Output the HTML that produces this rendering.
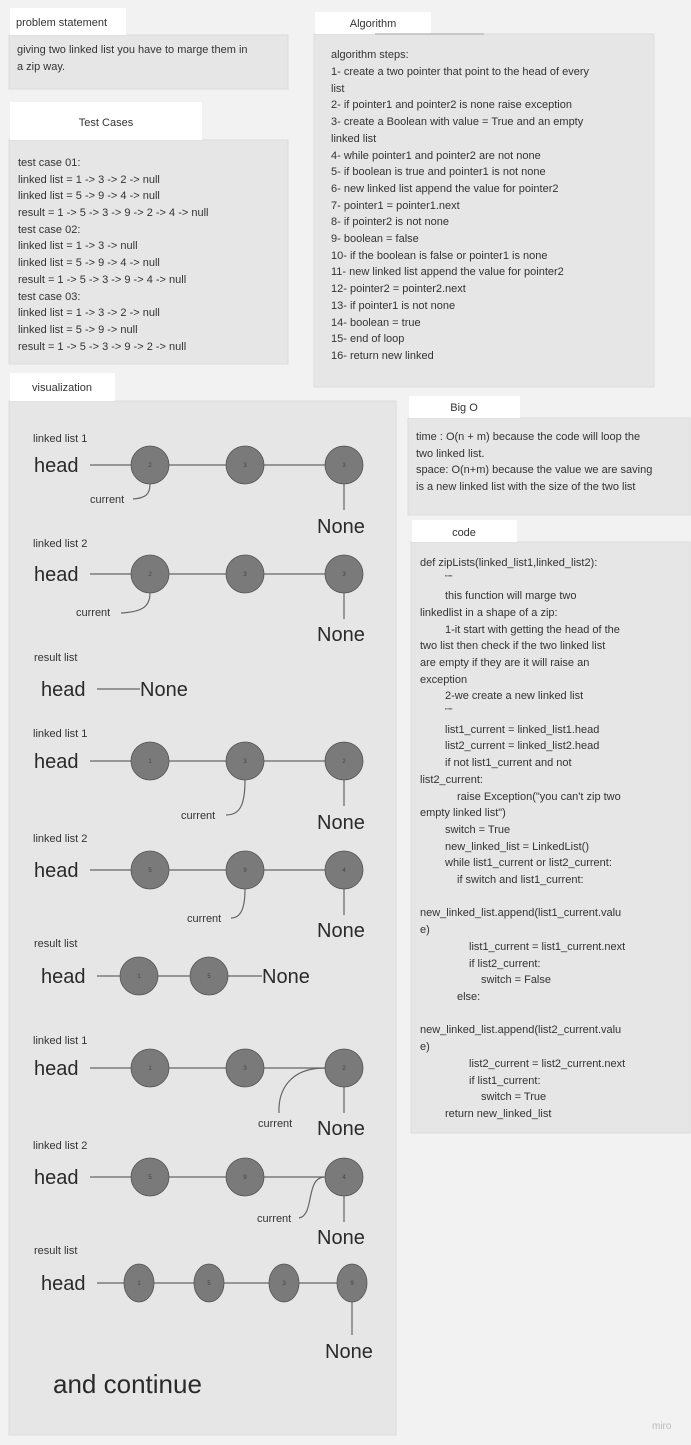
<!DOCTYPE html>
<html><head><meta charset="utf-8"><style>
html,body{margin:0;padding:0;background:#f2f2f2;}
svg{display:block;}
text{font-family:"Liberation Sans",sans-serif;fill:#333;}
.s{font-size:11px;}
.big{font-size:20px;fill:#2a2a2a;}
.n{font-size:6px;fill:#444;text-anchor:middle;}
.c{fill:#7a7a7a;stroke:#555;stroke-width:0.8;}
.l{stroke:#666;stroke-width:1.2;fill:none;}
</style></head><body>
<svg width="691" height="1445" viewBox="0 0 691 1445" xmlns="http://www.w3.org/2000/svg">
<rect width="691" height="1445" fill="#f2f2f2"/>
<!-- problem statement -->
<rect x="9" y="35" width="279" height="54" fill="#e6e6e6" stroke="#dcdcdc"/>
<rect x="10" y="8" width="116" height="27" fill="#fff"/>
<text class="s" x="16" y="26">problem statement</text>
<text class="s" x="17" y="53">giving two linked list you have to marge them in</text>
<text class="s" x="17" y="70">a zip way.</text>
<!-- test cases -->
<rect x="9" y="140" width="279" height="224" fill="#e6e6e6" stroke="#dcdcdc"/>
<rect x="10" y="102" width="192" height="38" fill="#fff"/>
<text class="s" x="106" y="126" text-anchor="middle">Test Cases</text>
<text class="s" x="18" y="166">test case 01:</text>
<text class="s" x="18" y="183">linked list = 1 -&gt; 3 -&gt; 2 -&gt; null</text>
<text class="s" x="18" y="199">linked list = 5 -&gt; 9 -&gt; 4 -&gt; null</text>
<text class="s" x="18" y="216">result = 1 -&gt; 5 -&gt; 3 -&gt; 9 -&gt; 2 -&gt; 4 -&gt; null</text>
<text class="s" x="18" y="233">test case 02:</text>
<text class="s" x="18" y="249">linked list = 1 -&gt; 3 -&gt; null</text>
<text class="s" x="18" y="266">linked list = 5 -&gt; 9 -&gt; 4 -&gt; null</text>
<text class="s" x="18" y="283">result = 1 -&gt; 5 -&gt; 3 -&gt; 9 -&gt; 4 -&gt; null</text>
<text class="s" x="18" y="300">test case 03:</text>
<text class="s" x="18" y="316">linked list = 1 -&gt; 3 -&gt; 2 -&gt; null</text>
<text class="s" x="18" y="333">linked list = 5 -&gt; 9 -&gt; null</text>
<text class="s" x="18" y="350">result = 1 -&gt; 5 -&gt; 3 -&gt; 9 -&gt; 2 -&gt; null</text>
<!-- algorithm -->
<rect x="314" y="34" width="340" height="353" fill="#e6e6e6" stroke="#dcdcdc"/>
<rect x="315" y="12" width="116" height="22" fill="#fff"/>
<line x1="375" y1="34" x2="484" y2="34" stroke="#bbb" stroke-width="1.5"/>
<text class="s" x="373" y="27" text-anchor="middle">Algorithm</text>
<text class="s" x="331" y="58">algorithm steps:</text>
<text class="s" x="331" y="75">1- create a two pointer that point to the head of every</text>
<text class="s" x="331" y="92">list</text>
<text class="s" x="331" y="108">2- if pointer1 and pointer2 is none raise exception</text>
<text class="s" x="331" y="125">3- create a Boolean with value = True and an empty</text>
<text class="s" x="331" y="142">linked list</text>
<text class="s" x="331" y="159">4- while pointer1 and pointer2 are not none</text>
<text class="s" x="331" y="175">5- if boolean is true and pointer1 is not none</text>
<text class="s" x="331" y="192">6- new linked list append the value for pointer2</text>
<text class="s" x="331" y="209">7- pointer1 = pointer1.next</text>
<text class="s" x="331" y="225">8- if pointer2 is not none</text>
<text class="s" x="331" y="242">9- boolean = false</text>
<text class="s" x="331" y="259">10- if the boolean is false or pointer1 is none</text>
<text class="s" x="331" y="275">11- new linked list append the value for pointer2</text>
<text class="s" x="331" y="292">12- pointer2 = pointer2.next</text>
<text class="s" x="331" y="309">13- if pointer1 is not none</text>
<text class="s" x="331" y="326">14- boolean = true</text>
<text class="s" x="331" y="342">15- end of loop</text>
<text class="s" x="331" y="359">16- return new linked</text>
<!-- Big O -->
<rect x="408" y="418" width="282" height="97" fill="#e6e6e6" stroke="#dcdcdc"/>
<rect x="409" y="396" width="111" height="22" fill="#fff"/>
<text class="s" x="464" y="411" text-anchor="middle">Big O</text>
<text class="s" x="416" y="440">time : O(n + m) because the code will loop the</text>
<text class="s" x="416" y="457">two linked list.</text>
<text class="s" x="416" y="473">space: O(n+m) because the value we are saving</text>
<text class="s" x="416" y="490">is a new linked list with the size of the two list</text>
<!-- code -->
<rect x="411" y="542" width="279" height="591" fill="#e6e6e6" stroke="#dcdcdc"/>
<rect x="412" y="520" width="105" height="22" fill="#fff"/>
<text class="s" x="464" y="536" text-anchor="middle">code</text>
<text class="s" x="420" y="566">def zipLists(linked_list1,linked_list2):</text>
<text class="s" x="445" y="580" style="font-size:7px">"""</text>
<text class="s" x="445" y="599">this function will marge two</text>
<text class="s" x="420" y="616">linkedlist in a shape of a zip:</text>
<text class="s" x="445" y="633">1-it start with getting the head of the</text>
<text class="s" x="420" y="649">two list then check if the two linked list</text>
<text class="s" x="420" y="666">are empty if they are it will raise an</text>
<text class="s" x="420" y="683">exception</text>
<text class="s" x="445" y="699">2-we create a new linked list</text>
<text class="s" x="445" y="713" style="font-size:7px">"""</text>
<text class="s" x="445" y="733">list1_current = linked_list1.head</text>
<text class="s" x="445" y="749">list2_current = linked_list2.head</text>
<text class="s" x="445" y="766">if not list1_current and not</text>
<text class="s" x="420" y="783">list2_current:</text>
<text class="s" x="457" y="800">raise Exception("you can't zip two</text>
<text class="s" x="420" y="816">empty linked list")</text>
<text class="s" x="445" y="833">switch = True</text>
<text class="s" x="445" y="850">new_linked_list = LinkedList()</text>
<text class="s" x="445" y="866">while list1_current or list2_current:</text>
<text class="s" x="457" y="883">if switch and list1_current:</text>
<text class="s" x="420" y="916">new_linked_list.append(list1_current.valu</text>
<text class="s" x="420" y="933">e)</text>
<text class="s" x="469" y="950">list1_current = list1_current.next</text>
<text class="s" x="469" y="967">if list2_current:</text>
<text class="s" x="481" y="983">switch = False</text>
<text class="s" x="457" y="1000">else:</text>
<text class="s" x="420" y="1033">new_linked_list.append(list2_current.valu</text>
<text class="s" x="420" y="1050">e)</text>
<text class="s" x="469" y="1067">list2_current = list2_current.next</text>
<text class="s" x="469" y="1084">if list1_current:</text>
<text class="s" x="481" y="1100">switch = True</text>
<text class="s" x="445" y="1117">return new_linked_list</text>

<!-- visualization -->
<rect x="9" y="401" width="387" height="1034" fill="#e6e6e6" stroke="#dcdcdc"/>
<rect x="10" y="373" width="105" height="28" fill="#fff"/>
<text class="s" x="62" y="391" text-anchor="middle">visualization</text>

<!-- section 1 -->
<text class="s" x="33" y="442">linked list 1</text>
<text class="big" x="34" y="472">head</text>
<path class="l" d="M90 465H131M169 465H226M264 465H325M344 484V510"/>
<circle class="c" cx="150" cy="465" r="19"/><circle class="c" cx="245" cy="465" r="19"/><circle class="c" cx="344" cy="465" r="19"/>
<text class="n" x="150" y="467">2</text><text class="n" x="245" y="467">3</text><text class="n" x="344" y="467">3</text>
<path class="l" d="M150 484C150 495 145 498 133 499"/>
<text class="s" x="90" y="503">current</text>
<text class="big" x="317" y="533">None</text>

<!-- section 2 -->
<text class="s" x="33" y="547">linked list 2</text>
<text class="big" x="34" y="581">head</text>
<path class="l" d="M90 574H131M169 574H226M264 574H325M344 593V619"/>
<circle class="c" cx="150" cy="574" r="19"/><circle class="c" cx="245" cy="574" r="19"/><circle class="c" cx="344" cy="574" r="19"/>
<text class="n" x="150" y="576">2</text><text class="n" x="245" y="576">3</text><text class="n" x="344" y="576">3</text>
<path class="l" d="M150 593C150 608 140 612 121 613"/>
<text class="s" x="76" y="616">current</text>
<text class="big" x="317" y="641">None</text>

<!-- result 1 -->
<text class="s" x="34" y="661">result list</text>
<text class="big" x="41" y="696">head</text>
<path class="l" d="M97 689H140"/>
<text class="big" x="140" y="696">None</text>

<!-- section 3 -->
<text class="s" x="33" y="737">linked list 1</text>
<text class="big" x="34" y="768">head</text>
<path class="l" d="M90 761H131M169 761H226M264 761H325M344 780V806"/>
<circle class="c" cx="150" cy="761" r="19"/><circle class="c" cx="245" cy="761" r="19"/><circle class="c" cx="344" cy="761" r="19"/>
<text class="n" x="150" y="763">1</text><text class="n" x="245" y="763">3</text><text class="n" x="344" y="763">2</text>
<path class="l" d="M245 780C245 805 240 815 226 815"/>
<text class="s" x="181" y="819">current</text>
<text class="big" x="317" y="829">None</text>

<!-- section 4 -->
<text class="s" x="33" y="842">linked list 2</text>
<text class="big" x="34" y="877">head</text>
<path class="l" d="M90 870H131M169 870H226M264 870H325M344 889V915"/>
<circle class="c" cx="150" cy="870" r="19"/><circle class="c" cx="245" cy="870" r="19"/><circle class="c" cx="344" cy="870" r="19"/>
<text class="n" x="150" y="872">5</text><text class="n" x="245" y="872">9</text><text class="n" x="344" y="872">4</text>
<path class="l" d="M245 889C245 910 240 918 231 918"/>
<text class="s" x="187" y="922">current</text>
<text class="big" x="317" y="937">None</text>

<!-- result 2 -->
<text class="s" x="34" y="947">result list</text>
<text class="big" x="41" y="983">head</text>
<path class="l" d="M97 976H120M158 976H190M228 976H262"/>
<circle class="c" cx="139" cy="976" r="19"/><circle class="c" cx="209" cy="976" r="19"/>
<text class="n" x="139" y="978">1</text><text class="n" x="209" y="978">5</text>
<text class="big" x="262" y="983">None</text>

<!-- section 5 -->
<text class="s" x="33" y="1044">linked list 1</text>
<text class="big" x="34" y="1075">head</text>
<path class="l" d="M90 1068H131M169 1068H226M264 1068H325M344 1087V1113"/>
<circle class="c" cx="150" cy="1068" r="19"/><circle class="c" cx="245" cy="1068" r="19"/><circle class="c" cx="344" cy="1068" r="19"/>
<text class="n" x="150" y="1070">1</text><text class="n" x="245" y="1070">3</text><text class="n" x="344" y="1070">2</text>
<path class="l" d="M325 1068C290 1068 278 1090 279 1113"/>
<text class="s" x="258" y="1127">current</text>
<text class="big" x="317" y="1135">None</text>

<!-- section 6 -->
<text class="s" x="33" y="1149">linked list 2</text>
<text class="big" x="34" y="1184">head</text>
<path class="l" d="M90 1177H131M169 1177H226M264 1177H325M344 1196V1222"/>
<circle class="c" cx="150" cy="1177" r="19"/><circle class="c" cx="245" cy="1177" r="19"/><circle class="c" cx="344" cy="1177" r="19"/>
<text class="n" x="150" y="1179">5</text><text class="n" x="245" y="1179">9</text><text class="n" x="344" y="1179">4</text>
<path class="l" d="M325 1177C305 1177 315 1215 299 1218"/>
<text class="s" x="257" y="1222">current</text>
<text class="big" x="317" y="1244">None</text>

<!-- result 3 -->
<text class="s" x="34" y="1254">result list</text>
<text class="big" x="41" y="1290">head</text>
<path class="l" d="M97 1283H124M154 1283H194M224 1283H269M299 1283H337M352 1302V1335"/>
<ellipse class="c" cx="139" cy="1283" rx="15" ry="19"/><ellipse class="c" cx="209" cy="1283" rx="15" ry="19"/><ellipse class="c" cx="284" cy="1283" rx="15" ry="19"/><ellipse class="c" cx="352" cy="1283" rx="15" ry="19"/>
<text class="n" x="139" y="1285">1</text><text class="n" x="209" y="1285">5</text><text class="n" x="284" y="1285">3</text><text class="n" x="352" y="1285">9</text>
<text class="big" x="325" y="1358">None</text>

<text x="53" y="1393" style="font-size:26px;fill:#2a2a2a">and continue</text>
<text x="652" y="1429" style="font-size:10px;fill:#bbb">miro</text>
</svg>
</body></html>
